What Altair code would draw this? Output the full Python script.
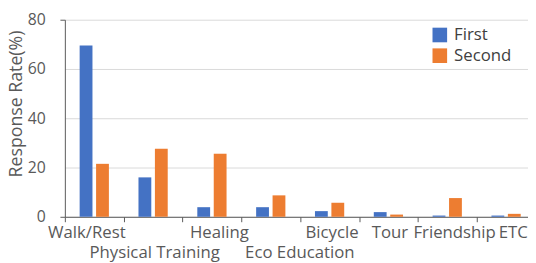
import altair as alt
import pandas as pd

categories = ["Walk/Rest", "Physical Training", "Healing", "Eco Education",
              "Bicycle", "Tour", "Friendship", "ETC."]
series = ["First", "Second"]
first = [69.5, 16.0, 3.9, 3.9, 2.3, 1.9, 0.5, 0.5]
second = [21.5, 27.6, 25.6, 8.7, 5.7, 0.9, 7.6, 1.2]
y_ticks = [0, 20, 40, 60, 80]
colors = ["#4472C4", "#ED7D31"]

rows = []
for c, a, b in zip(categories, first, second):
    rows.append({"Category": c, "Survey": "First", "Rate": a})
    rows.append({"Category": c, "Survey": "Second", "Rate": b})
df = pd.DataFrame(rows)

FONT = "Open Sans"
GREY = "#595959"

label_pad = {"expr": "(datum.value == 'Physical Training' || datum.value == 'Eco Education') ? 23 : 3"}
label_off = {"expr": "datum.value == 'Walk/Rest' ? -8 : datum.value == 'Physical Training' ? 1 : "
                     "datum.value == 'Healing' ? 7 : datum.value == 'Eco Education' ? 29 : "
                     "datum.value == 'Bicycle' ? 2 : datum.value == 'Tour' ? 1 : "
                     "datum.value == 'Friendship' ? 7 : datum.value == 'ETC.' ? 9 : 0"}

chart = alt.Chart(df).mark_bar().encode(
    x=alt.X("Category:N", sort=categories,
            scale=alt.Scale(domain=categories, range=[0, 477.6], paddingInner=0, paddingOuter=0),
            axis=alt.Axis(title=None, labelAngle=0, tickBand="extent", tickSize=5,
                          tickColor=GREY, domainColor=GREY, labelColor=GREY,
                          labelFont=FONT, labelFontSize=17, labelPadding=label_pad,
                          labelOffset=label_off, labelBaseline="top", grid=False)),
    xOffset=alt.XOffset("Survey:N", sort=series,
                        scale=alt.Scale(domain=series, paddingInner=0.22, paddingOuter=0.9)),
    y=alt.Y("Rate:Q", scale=alt.Scale(domain=[0, 80]),
            axis=alt.Axis(title="Response Rate(%)", values=y_ticks, tickSize=5,
                          tickColor=GREY, domainColor=GREY, labelColor=GREY,
                          tickOpacity={"expr": "(datum.value == 80 || datum.value == 0) ? 1 : 0"},
                          labelFont=FONT, labelFontSize=16, labelPadding=15,
                          titleFont=FONT, titleFontSize=18, titleFontWeight="normal",
                          titleColor=GREY, titleX=-44, titleY=85, titleAngle=270,
                          titleAlign="center", titleBaseline="alphabetic",
                          gridColor="#D9D9D9")),
    color=alt.Color("Survey:N", sort=series,
                    scale=alt.Scale(domain=series, range=colors),
                    legend=alt.Legend(title=None, orient="none", legendX=372, legendY=7,
                                      symbolType="square", symbolSize=220,
                                      symbolStrokeWidth=0, labelFont=FONT,
                                      labelFontSize=17, labelColor="#404040",
                                      labelOffset=6, rowPadding=3)),
).properties(
    width=470, height=200,
    autosize=alt.AutoSizeParams(type="none"),
    padding={"left": 57.7, "top": 10, "right": 0, "bottom": 45},
).configure_view(stroke="transparent")

chart.save("out.html", embed_options={"renderer": "svg", "actions": False})
